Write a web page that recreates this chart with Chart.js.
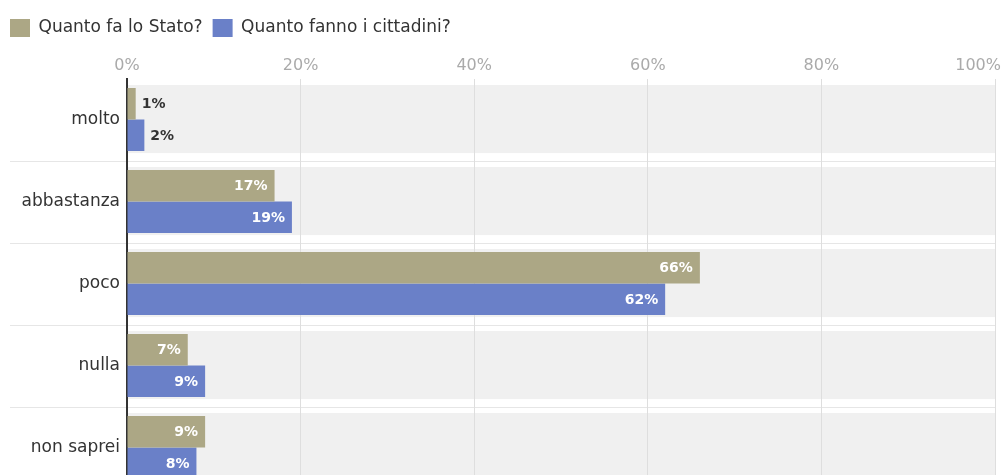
<!DOCTYPE html>
<html>
<head>
<meta charset="utf-8">
<script src="https://cdn.jsdelivr.net/npm/chart.js@4"></script>
<style>
  html, body { margin: 0; padding: 0; background: #fff; overflow: hidden; }
  canvas { display: block; }
</style>
</head>
<body>
<canvas id="chart" width="1003" height="490"></canvas>
<script>
const categories = ["molto", "abbastanza", "poco", "nulla", "non saprei"]
const seriesNames = ["Quanto fa lo Stato?", "Quanto fanno i cittadini?"]
const stato = [1, 17, 66, 7, 9]
const cittadini = [2, 19, 62, 9, 8]
const xTicks = [0, 20, 40, 60, 80, 100]

const FONT = "'DejaVu Sans', sans-serif"

/* grey band behind each row + separators, and the top tick labels */
const bands = {
  id: "bands",
  beforeDraw(chart) {
    const { ctx, scales } = chart
    const x0 = scales.x.getPixelForValue(0)
    const x1 = scales.x.getPixelForValue(100)
    const step = scales.y.getPixelForValue(1) - scales.y.getPixelForValue(0)
    ctx.save()
    categories.forEach((c, i) => {
      const yc = scales.y.getPixelForValue(i)
      ctx.fillStyle = "#f0f0f0"
      ctx.fillRect(x0, yc - step * 0.42, x1 - x0, step * 0.83)
      if (i < categories.length - 1) {
        ctx.fillStyle = "#e6e6e6"
        ctx.fillRect(10, Math.round(yc + step / 2), x1 - 10, 1)
      }
    })
    ctx.restore()
  },
  afterDraw(chart) {
    const { ctx, scales } = chart
    ctx.save()
    ctx.font = "16px " + FONT
    ctx.fillStyle = "#aaaaaa"
    ctx.textAlign = "center"
    ctx.textBaseline = "middle"
    xTicks.forEach(v => {
      const t = v + "%"
      const w = ctx.measureText(t).width
      let px = scales.x.getPixelForValue(v)
      px = Math.min(px, chart.width - 2 - w / 2)
      ctx.fillText(t, px, 66)
    })
    ctx.restore()
  }
}

/* value labels on the bars */
const valueLabels = {
  id: "valueLabels",
  afterDatasetsDraw(chart) {
    const { ctx } = chart
    ctx.save()
    ctx.textBaseline = "middle"
    ctx.font = "bold 14px " + FONT
    chart.data.datasets.forEach((ds, di) => {
      chart.getDatasetMeta(di).data.forEach((bar, i) => {
        const v = ds.data[i]
        const t = v + "%"
        if (v >= 5) {
          ctx.fillStyle = "#ffffff"
          ctx.textAlign = "right"
          ctx.fillText(t, bar.x - 7, bar.y + 1)
        } else {
          ctx.fillStyle = "#333333"
          ctx.textAlign = "left"
          ctx.fillText(t, bar.x + 6, bar.y + 1)
        }
      })
    })
    ctx.restore()
  }
}

new Chart(document.getElementById("chart"), {
  type: "bar",
  data: {
    labels: categories,
    datasets: [
      {
        label: seriesNames[0],
        data: stato,
        backgroundColor: "#aca785",
        categoryPercentage: 0.77,
        barPercentage: 1
      },
      {
        label: seriesNames[1],
        data: cittadini,
        backgroundColor: "#6a80c8",
        categoryPercentage: 0.77,
        barPercentage: 1
      }
    ]
  },
  options: {
    indexAxis: "y",
    responsive: false,
    animation: false,
    layout: { padding: { top: 9, left: 0, right: 8, bottom: 1.5 } },
    plugins: {
      tooltip: { enabled: false },
      legend: {
        position: "top",
        align: "start",
        labels: {
          boxWidth: 20,
          boxHeight: 18,
          padding: 10,
          color: "#333333",
          font: { family: FONT, size: 17 }
        }
      }
    },
    scales: {
      x: {
        position: "top",
        min: 0,
        max: 100,
        ticks: { display: false, stepSize: 20 },
        grid: {
          drawTicks: false,
          color: ctx => ctx.tick && ctx.tick.value === 0 ? "rgba(0,0,0,0)" : "#dedede"
        },
        border: { display: false },
        afterFit(scale) {
          scale.height = 31.5
          scale.paddingLeft = 0
          scale.paddingRight = 0
        }
      },
      y: {
        ticks: {
          color: "#333333",
          padding: 7,
          font: { family: FONT, size: 17 }
        },
        grid: { display: false, drawTicks: false },
        border: { display: true, color: "#333333", width: 2 },
        afterFit(scale) {
          scale.width = 127
          scale.paddingTop = 0
          scale.paddingBottom = 0
        }
      }
    }
  },
  plugins: [bands, valueLabels]
})
</script>
</body>
</html>
